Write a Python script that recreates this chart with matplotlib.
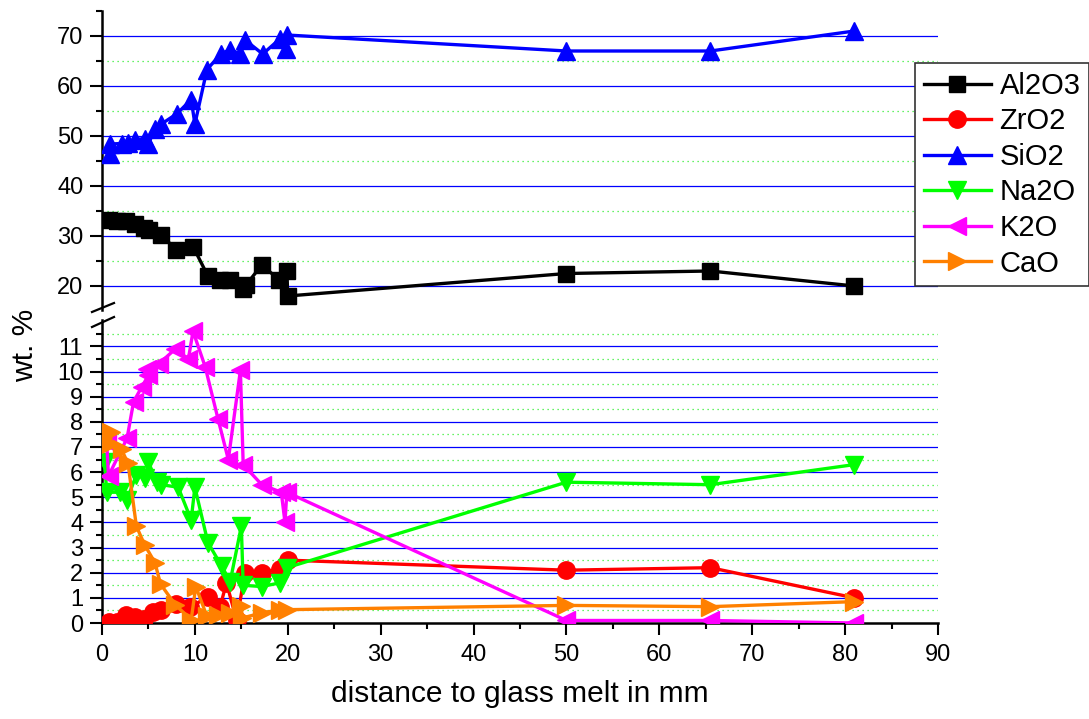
"""Oxide composition vs. distance to glass melt, broken y-axis."""

import matplotlib

matplotlib.use("Agg")
import matplotlib.pyplot as plt
from matplotlib.lines import Line2D
from matplotlib.ticker import MultipleLocator

plt.rcParams["font.family"] = ["Liberation Sans", "DejaVu Sans"]

# ---- data ----
al2o3_x = [0.7, 1.6, 2.6, 3.5, 4.5, 5.1, 6.4, 8.0, 9.8, 11.4, 12.7, 13.8, 15.2, 15.5,
           17.2, 19.1, 19.9, 20.0, 50, 65.5, 81]
al2o3_y = [33.2, 33.1, 33.1, 32.5, 31.7, 31.3, 30.2, 27.2, 27.9, 22.0, 21.2, 21.2, 19.4, 20.2,
           24.2, 21.2, 23.0, 18.0, 22.5, 23.0, 20.0]

zro2_x = [0.7, 1.6, 2.6, 3.5, 4.5, 5.5, 6.4, 8.0, 9.5, 11.4, 12.7, 13.4, 14.5, 15.4,
          17.2, 19.2, 20.0, 50, 65.5, 81]
zro2_y = [0.05, 0.05, 0.3, 0.25, 0.15, 0.45, 0.5, 0.75, 0.62, 1.05, 0.62, 1.6, 0.1, 2.0,
          2.0, 2.15, 2.5, 2.1, 2.2, 1.0]

sio2_x = [0.9, 0.9, 2.1, 2.8, 3.6, 4.6, 5.0, 5.7, 6.4, 8.1, 9.6, 10.0, 11.3, 12.8,
          13.8, 14.9, 15.4, 17.3, 19.2, 19.8, 19.9, 50, 65.5, 81]
sio2_y = [46.5, 48.4, 48.5, 48.6, 49.3, 49.5, 48.4, 51.5, 52.4, 54.5, 57.3, 52.4, 63.3, 66.4,
          67.3, 66.4, 69.2, 66.4, 69.5, 67.5, 70.2, 67.0, 67.0, 71.0]

na2o_x = [0.3, 0.5, 1.9, 2.7, 3.7, 4.6, 5.0, 5.9, 6.4, 8.2, 9.6, 10.0, 11.4, 12.9,
          13.8, 15.0, 15.2, 17.2, 19.2, 19.9, 50, 65.5, 81]
na2o_y = [6.4, 5.2, 5.2, 4.9, 5.9, 5.75, 6.4, 5.6, 5.5, 5.4, 4.1, 5.4, 3.2, 2.25,
          1.65, 3.85, 1.5, 1.45, 1.6, 2.2, 5.6, 5.5, 6.3]

k2o_x = [0.5, 0.7, 2.7, 3.4, 4.3, 5.0, 4.8, 6.1, 7.9, 9.3, 9.8, 11.1, 12.5, 13.6,
         14.9, 15.2, 17.2, 19.3, 19.7, 19.9, 50, 65.5, 81]
k2o_y = [7.2, 5.85, 7.35, 8.8, 9.4, 9.85, 10.1, 10.3, 10.9, 10.5, 11.6, 10.2, 8.1, 6.5,
         10.05, 6.3, 5.5, 5.2, 4.0, 5.2, 0.1, 0.1, 0.0]

cao_x = [1.0, 0.9, 2.1, 2.8, 3.7, 4.6, 5.7, 6.3, 7.9, 9.6, 10.1, 11.3, 12.5, 13.8,
         15.0, 15.1, 17.2, 19.2, 19.9, 50, 65.5, 81]
cao_y = [7.6, 7.1, 6.9, 6.35, 3.85, 3.1, 2.4, 1.55, 0.72, 0.13, 1.45, 0.26, 0.33, 0.4,
         0.66, 0.2, 0.4, 0.53, 0.53, 0.7, 0.65, 0.85]

top_major = [20, 30, 40, 50, 60, 70]
top_minor = [25, 35, 45, 55, 65]
bot_major = list(range(1, 12))
bot_minor = [v + 0.5 for v in range(0, 12)]

series = [
    ("Al2O3", al2o3_x, al2o3_y, "black", "s", 11.5),
    ("ZrO2", zro2_x, zro2_y, "#FF0000", "o", 12.5),
    ("SiO2", sio2_x, sio2_y, "#0000FF", "^", 13.5),
    ("Na2O", na2o_x, na2o_y, "#00FF00", "v", 13.5),
    ("K2O", k2o_x, k2o_y, "#FF00FF", "<", 13.5),
    ("CaO", cao_x, cao_y, "#FF8000", ">", 13.5),
]

W, H = 1089, 719
fig = plt.figure(figsize=(W / 100, H / 100), dpi=100)

left, right = 102 / W, 938 / W
ax_top = fig.add_axes([left, 1 - 310 / H, right - left, 299 / H])
ax_bot = fig.add_axes([left, 1 - 623 / H, right - left, 303 / H])


def draw_grid(ax, major, minor):
    # blue solid lines at majors, green dotted at the half steps
    for v in major:
        ax.axhline(v, color="#0000FF", lw=0.9, zorder=1)
    for v in minor:
        ax.axhline(v, color="#33EE33", lw=0.9, ls=(0, (1, 3)), zorder=1)


for ax in (ax_top, ax_bot):
    for name, xs, ys, c, m, ms in series:
        ax.plot(xs, ys, color=c, lw=2.4, marker=m, markersize=ms,
                markeredgecolor=c, markerfacecolor=c, zorder=3)
    ax.set_xlim(0, 90)
    ax.spines["top"].set_visible(False)
    ax.spines["right"].set_visible(False)
    ax.spines["left"].set_linewidth(1.8)
    ax.spines["bottom"].set_linewidth(1.8)
    ax.tick_params(axis="y", which="major", direction="out", length=8.5, width=1.5,
                   labelsize=17, pad=5)
    ax.tick_params(axis="y", which="minor", direction="out", length=4.3, width=1.5)

draw_grid(ax_top, top_major, top_minor)
draw_grid(ax_bot, bot_major, bot_minor)

ax_top.set_ylim(15.2, 75)
ax_top.yaxis.set_major_locator(MultipleLocator(10))
ax_top.yaxis.set_minor_locator(MultipleLocator(5))
ax_top.spines["bottom"].set_visible(False)
ax_top.tick_params(axis="x", which="both", bottom=False, labelbottom=False)

ax_bot.set_ylim(0, 12.05)
ax_bot.set_yticks(range(0, 12))
ax_bot.set_yticks(bot_minor, minor=True)
ax_bot.xaxis.set_major_locator(MultipleLocator(10))
ax_bot.xaxis.set_minor_locator(MultipleLocator(5))
ax_bot.tick_params(axis="x", which="major", direction="out", length=8.5, width=1.5,
                   labelsize=17, pad=6.5)
ax_bot.tick_params(axis="x", which="minor", direction="out", length=4.3, width=1.5)
ax_bot.set_xlabel("distance to glass melt in mm", fontsize=21.5, labelpad=10)

# break marks on the left spine
for y0, y1 in [(312, 303), (327, 317)]:
    fig.add_artist(Line2D([92 / W, 114 / W], [1 - y0 / H, 1 - y1 / H],
                          color="black", lw=1.6, transform=fig.transFigure))

fig.text(25 / W, 1 - 345 / H, "wt. %", rotation=90, fontsize=21.5,
         ha="center", va="center")

handles = [Line2D([0], [0], color=c, lw=2.4, marker=m, markersize=ms,
                  markeredgecolor=c, markerfacecolor=c)
           for _, _, _, c, m, ms in series]
labels = [s[0] for s in series]
leg = fig.legend(handles, labels, loc="upper left",
                 bbox_to_anchor=(915 / W, 1 - 63 / H), fontsize=21,
                 frameon=True, fancybox=False, shadow=False, borderaxespad=0,
                 handlelength=2.3, handletextpad=0.3, labelspacing=0.26,
                 borderpad=0.3)
leg.get_frame().set_edgecolor("#333333")
leg.get_frame().set_linewidth(1.2)
leg.get_frame().set_alpha(1)

fig.savefig("out.png", dpi=100)
